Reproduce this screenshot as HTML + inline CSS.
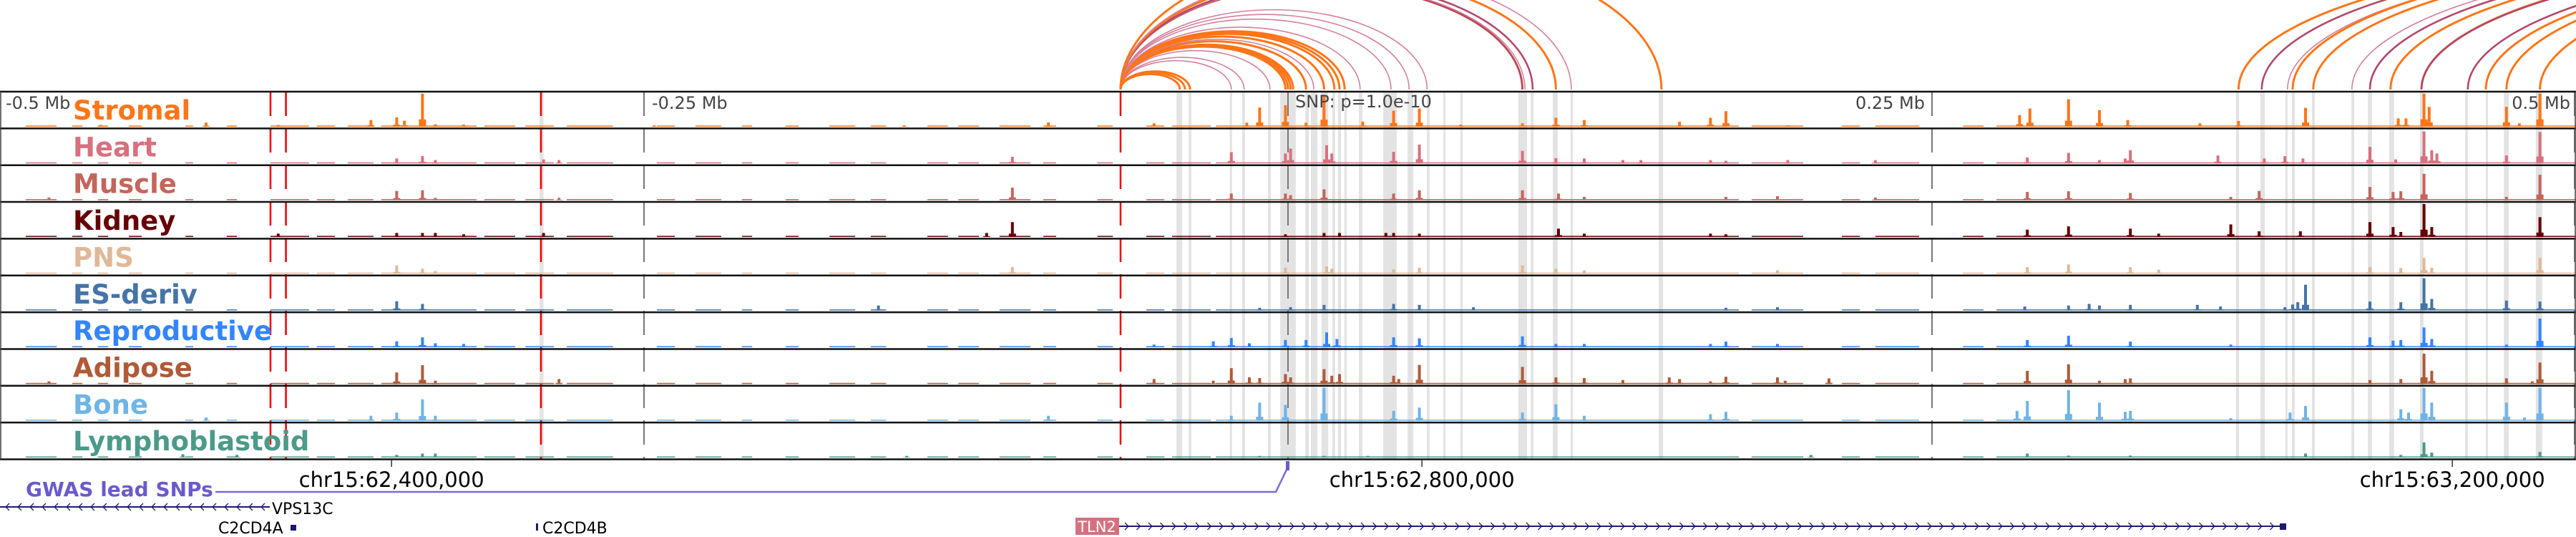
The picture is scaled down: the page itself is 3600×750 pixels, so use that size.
<!DOCTYPE html>
<html><head><meta charset="utf-8"><style>
html,body{margin:0;padding:0;background:#fff;}
svg{display:block;font-family:"DejaVu Sans","Liberation Sans",sans-serif;}
</style></head><body>
<svg id="chart" width="3600" height="750" viewBox="0 0 3600 750" xmlns="http://www.w3.org/2000/svg">
<g id="bands"></g>
<g id="arcs"></g>
<g id="tracks"></g>
<g id="vlines"></g>
<g id="frame"></g>
<g id="labels"></g>
<g id="lower">
  <text x="8" y="152" font-size="24" fill="#444">-0.5 Mb</text>
  <text x="911" y="152" font-size="24" fill="#444">-0.25 Mb</text>
  <text x="1810" y="150" font-size="24" fill="#444">SNP: p=1.0e-10</text>
  <text x="2690" y="152" font-size="24" fill="#444" text-anchor="end">0.25 Mb</text>
  <text x="3592" y="152" font-size="24" fill="#444" text-anchor="end">0.5 Mb</text>
  <text x="36" y="693" font-size="28" font-weight="bold" fill="#6a5acd">GWAS lead SNPs</text>
  <polyline points="301,687 1783,687 1798,656" fill="none" stroke="#7b68dd" stroke-width="2.5"/>
  <rect x="1797" y="644" width="5" height="13" fill="#6a5acd"/>
  <text x="380" y="718" font-size="22" fill="#000">VPS13C</text>
  <text x="305" y="745" font-size="22" fill="#000">C2CD4A</text>
  <rect x="406" y="733" width="8" height="8" fill="#1c1c6c"/>
  <rect x="749" y="731" width="3" height="10" fill="#1c1c6c"/>
  <text x="758" y="745" font-size="22" fill="#000">C2CD4B</text>
  <rect x="1503" y="723" width="61" height="24" fill="#d6707f"/>
  <text x="1533" y="743" font-size="21" fill="#fff" text-anchor="middle">TLN2</text>
  <line x1="0" y1="708" x2="377" y2="708" stroke="#1c1c6c" stroke-width="2"/>
  <line x1="1564" y1="735" x2="3190" y2="735" stroke="#1c1c6c" stroke-width="2"/>
  <rect x="3186" y="731" width="9" height="9" fill="#1c1c6c"/>
</g>
<g id="axis"></g>
</svg>
<script>
const NS = "http://www.w3.org/2000/svg";
// ---- data ----
const trackNames = ["Stromal","Heart","Muscle","Kidney","PNS","ES-deriv","Reproductive","Adipose","Bone","Lymphoblastoid"];
const trackColors = ["#ff7518","#d8707f","#c4655c","#660000","#e0b898","#4474a8","#3385ff","#b05a38","#70b4e6","#4b9a8a"];
const stromal = [[-461,5],[-420,12],[-392,5],[-356,20],[-346,28],[-343,18],[-336,100],[-331,7],[-320,6],[-246,4],[-149,4],[-93,13],[-52,10],[-16,12],[-11,58],[-1,65],[7,12],[14,95],[29,15],[41,48],[51,55],[67,6],[91,10],[104,27],[115,20],[152,15],[164,27],[170,47],[194,4],[284,35],[288,55],[303,83],[315,50],[326,20],[354,10],[369,17],[395,57],[431,25],[434,25],[441,100],[443,60],[473,60],[478,10],[486,100]];
const heart = [[-346,15],[-336,22],[-331,10],[-289,12],[-283,10],[-107,20],[-22,34],[-1,30],[1,45],[15,55],[17,30],[41,35],[51,57],[91,38],[104,16],[115,15],[130,10],[137,10],[164,10],[170,8],[194,10],[228,10],[287,18],[303,32],[315,10],[325,15],[327,40],[361,24],[379,15],[387,22],[394,15],[420,50],[430,12],[441,97],[444,40],[446,30],[473,24],[486,95]];
const muscle = [[-481,8],[-346,28],[-336,30],[-331,7],[-283,7],[-107,38],[-22,20],[-1,20],[1,15],[14,33],[41,20],[51,30],[91,30],[105,20],[115,10],[170,10],[190,12],[228,8],[287,25],[303,27],[327,22],[366,10],[377,28],[420,40],[429,25],[432,27],[441,80],[473,10],[486,77]];
const kidney = [[-392,10],[-346,12],[-336,12],[-331,12],[-320,8],[-289,12],[-117,12],[-107,45],[-1,8],[14,12],[20,12],[38,12],[41,12],[51,10],[105,25],[115,10],[164,10],[170,8],[287,22],[303,32],[327,25],[338,10],[366,38],[377,17],[393,17],[420,45],[429,30],[432,15],[441,100],[444,30],[486,60]];
const pns = [[-346,25],[-336,15],[-331,8],[-107,20],[-1,18],[15,22],[17,15],[41,13],[51,18],[91,25],[104,15],[115,10],[190,10],[287,20],[303,28],[327,20],[338,12],[420,20],[432,17],[441,48],[444,18],[486,48]];
const esDeriv = [[-346,28],[-336,20],[-159,15],[-11,8],[1,10],[14,17],[41,20],[51,17],[72,10],[170,8],[190,10],[286,12],[303,15],[311,20],[315,15],[327,17],[353,17],[362,12],[387,10],[390,18],[392,25],[395,78],[420,27],[432,25],[441,98],[444,35],[473,30],[486,27]];
const reproductive = [[-346,18],[-336,30],[-331,12],[-320,10],[-52,8],[-29,18],[-22,28],[-15,12],[-1,22],[7,22],[15,45],[19,25],[41,30],[51,27],[91,33],[104,10],[115,10],[164,10],[170,17],[190,10],[287,22],[303,35],[327,17],[366,8],[420,30],[429,20],[432,22],[441,60],[444,25],[473,8],[486,87]];
const adipose = [[-481,8],[-346,35],[-336,57],[-331,10],[-283,15],[-52,15],[-29,10],[-22,48],[-15,20],[-11,18],[-1,30],[1,20],[14,45],[17,25],[20,30],[41,25],[43,15],[51,58],[91,52],[104,20],[115,18],[130,12],[148,20],[152,15],[164,8],[170,22],[190,20],[193,10],[210,17],[287,40],[303,60],[315,10],[325,15],[327,17],[420,12],[432,15],[441,92],[444,40],[473,17],[483,8],[486,65]];
const bone = [[-420,10],[-356,15],[-346,25],[-336,65],[-331,15],[-93,15],[-22,15],[-11,55],[-1,48],[14,100],[41,30],[51,40],[91,25],[104,50],[115,15],[164,20],[170,27],[283,30],[287,60],[303,93],[315,55],[325,27],[327,30],[366,8],[389,25],[395,45],[432,35],[435,25],[441,100],[444,55],[473,55],[480,10],[486,100]];
const lympho = [[-429,10],[-408,8],[-346,8],[-336,12],[-331,12],[-148,5],[-11,5],[14,5],[31,5],[203,8],[287,12],[303,6],[327,6],[395,12],[432,8],[441,46],[444,15],[486,17]];
const trackPeaks = [stromal,heart,muscle,kidney,pns,esDeriv,reproductive,adipose,bone,lympho];
const backgroundRanges = [[-490,-478],[-472,-468],[-462,-458],[-450,-445],[-428,-425],[-412,-408],[-395,-380],[-377,-370],[-365,-355],[-352,-315],[-312,-300],[-296,-285],[-280,-262],[-245,-238],[-230,-220],[-212,-208],[-195,-190],[-178,-168],[-162,-156],[-140,-132],[-128,-120],[-112,-100],[-95,-90],[-74,-68],[-55,-48],[-45,-30],[-28,175],[180,200],[215,222],[228,245],[262,270],[275,500]];
const bands = [[-290.5,-289],[-43.3,-41.1],[-38.6,-37.5],[-22.6,-21.7],[-17.8,-16.7],[-7.8,-6.7],[-3,3],[6.7,8.1],[8.9,11.4],[13,15.6],[17.2,18.3],[19.4,20.6],[21.9,22.8],[27.5,28.9],[37,42.2],[46.4,48.6],[53.9,55],[60.3,61.1],[66.9,67.8],[89.4,92.8],[94.2,95.3],[102.8,104.7],[109.7,110.6],[143.9,145.6],[368,369.2],[377.5,379.2],[387.2,388],[389.7,390.8],[397.5,398.6],[412.8,413.9],[419.2,420.8],[427.5,429.4],[439.4,440.8],[457,458],[465,465.8],[472,473.9],[484.4,486.9]];
const arcStarts = [-65,-65,-65,-65,-65,-65,-65,-65,-65,-65,-65,-65,-65,-65,-65,-65,-65,-65,-65,-65,-65,-65,-65,-65,-65,-65,-65,-65,369,378,388,390,398,413,420,428,440,440,458,465,473,486];
const arcEnds   = [-42,-40,-38,-22,-17,-7,-1,0,1,2,7,10,14,18,18,20,22,28,40,47,54,91,91,92,95,104,110,145,790,800,805,815,820,830,840,850,860,855,870,880,890,905];
const arcTypes  = ["o","o","o","p","p","p","o","o","o","o","o","p","o","p","o","o","o","p","p","p","p","o","r","p","r","o","p","o","o","r","p","o","o","p","r","o","o","r","r","o","o","o"];
const redLines = [-395,-389,-290,-65];
const grayLines = [-250,0,250,500];
const tickPositions = [-348,52,452];
const tickLabels = ["chr15:62,400,000","chr15:62,800,000","chr15:63,200,000"];

// ---- scales ----
const X0 = 1800, PXKB = 3.6;
const xs = kb => X0 + kb * PXKB;
const TRACK_TOP = 128, TRACK_H = 51.35, MAXH = 46;
const trackBase = i => TRACK_TOP + (i + 1) * TRACK_H - 2.5;
const ys = (i, v) => trackBase(i) - v / 100 * MAXH;

function mk(tag, attrs, parent) {
  const e = document.createElementNS(NS, tag);
  for (const k in attrs) e.setAttribute(k, attrs[k]);
  parent.appendChild(e);
  return e;
}

// bands
const gB = document.getElementById("bands");
bands.forEach(b => {
  const r = mk("rect", {x: xs(b[0]), y: TRACK_TOP, width: Math.max(3, xs(b[1]) - xs(b[0])), height: TRACK_H * 10, fill: "#e3e3e3"}, gB);
  
  
});

// arcs
const gA = document.getElementById("arcs");
const arcStyle = {o: ["#ff7518", 3], p: ["#d4809b", 1.6], r: ["#b24868", 2.6]};
arcStarts.forEach((s, k) => {
  const x1 = xs(s), x2 = xs(arcEnds[k]);
  const span = x2 - x1;
  const rx = span / 2, ry = span * (s > 300 ? 0.13 : 0.26);
  const st = arcStyle[arcTypes[k]];
  const p = mk("path", {d: `M${x1},125 A${rx},${ry} 0 0 1 ${x2},125`, fill: "none", stroke: st[0], "stroke-width": st[1]}, gA);
  
  
});

// tracks
const gT = document.getElementById("tracks");
trackPeaks.forEach((peaks, i) => {
  const g = mk("g", {fill: trackColors[i]}, gT);
  
  
  backgroundRanges.forEach(r => {
    const e = mk("rect", {x: xs(r[0]), y: trackBase(i) - 1.5, width: xs(r[1]) - xs(r[0]), height: 1.5}, g);
    
    
  });
  peaks.forEach(p => {
    const x = xs(p[0]);
    const skirt = mk("rect", {x: x - 5, y: ys(i, p[1] * 0.22), width: 10, height: trackBase(i) - ys(i, p[1] * 0.22)}, g);
    
    
    const bar = mk("rect", {x: x - 2, y: ys(i, p[1]), width: 4, height: trackBase(i) - ys(i, p[1])}, g);
    
    
  });
});

// vertical marker lines
const gV = document.getElementById("vlines");
redLines.forEach(v => {
  const l = mk("line", {x1: xs(v), x2: xs(v), y1: TRACK_TOP, y2: TRACK_TOP + TRACK_H * 10, stroke: "#ee0000", "stroke-width": 2.5, "stroke-dasharray": "34,17"}, gV);
  
  
});
grayLines.forEach(v => {
  const l = mk("line", {x1: Math.min(xs(v), 3598), x2: Math.min(xs(v), 3598), y1: TRACK_TOP, y2: TRACK_TOP + TRACK_H * 10, stroke: "#777", "stroke-width": 2, "stroke-dasharray": "34,17"}, gV);
  
  
});

// frame
const gF = document.getElementById("frame");
for (let i = 0; i <= 10; i++) {
  const l = mk("line", {x1: 0, x2: 3600, y1: TRACK_TOP + i * TRACK_H, y2: TRACK_TOP + i * TRACK_H, stroke: "#111", "stroke-width": 2.5}, gF);
  
  
}
const lb = mk("line", {x1: 1, x2: 1, y1: TRACK_TOP, y2: TRACK_TOP + TRACK_H * 10, stroke: "#444", "stroke-width": 1.5}, gF);


const rb = mk("line", {x1: 3599, x2: 3599, y1: TRACK_TOP, y2: TRACK_TOP + TRACK_H * 10, stroke: "#444", "stroke-width": 1.5}, gF);



// labels
const gL = document.getElementById("labels");
trackNames.forEach((n, i) => {
  const t = mk("text", {x: 102, y: TRACK_TOP + i * TRACK_H + 39, "font-size": 37, "font-weight": "bold", fill: trackColors[i]}, gL);
  t.textContent = n;
  
  
});

// axis ticks
const gX = document.getElementById("axis");
tickPositions.forEach((v, k) => {
  const l = mk("line", {x1: xs(v), x2: xs(v), y1: 642, y2: 652, stroke: "#333", "stroke-width": 1.5}, gX);
  
  
  const t = mk("text", {x: xs(v), y: 680, "font-size": 29, "text-anchor": "middle", fill: "#000"}, gX);
  t.textContent = tickLabels[k];
  
  
});

// gene strand arrows
const gLow = document.getElementById("lower");
for (let x = 8; x < 372; x += 17) {
  const p = mk("polyline", {points: `${x+5},703 ${x},708 ${x+5},713`, fill: "none", stroke: "#1c1c6c", "stroke-width": 1.3}, gLow);
  
  
}
for (let x = 1572; x < 3180; x += 16.5) {
  const p = mk("polyline", {points: `${x},730 ${x+5},735 ${x},740`, fill: "none", stroke: "#1c1c6c", "stroke-width": 1.3}, gLow);
  
  
}
</script>
</body></html>
